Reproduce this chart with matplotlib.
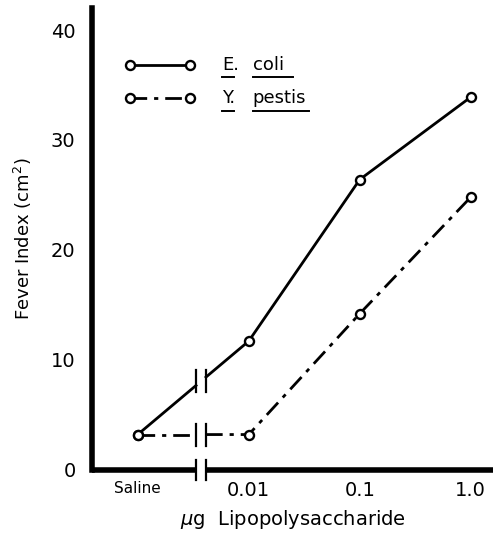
import matplotlib.pyplot as plt
from matplotlib.lines import Line2D

dosi = ['Saline', '0.01', '0.1', '1.0']
x_pos = [0, 1, 2, 3]
e_coli = [3.2, 11.7, 26.4, 33.9]
y_pestis = [3.2, 3.2, 14.2, 24.8]

rottura = 0.57  # dove c'e' l'interruzione dell'asse
tratteggio = (0, (6, 2.5, 1.5, 2.5))

fig = plt.figure(figsize=(4.93, 5.35), dpi=100)
ax = fig.add_axes([0.187, 0.122, 0.813, 0.863])
ax.set_xlim(-0.41, 3.2)
ax.set_ylim(0, 42)

# linee con l'interruzione
def serie(y, stile):
    y_rot = y[0] + (y[1] - y[0]) * rottura
    g = 0.045
    ax.plot([x_pos[0], rottura - g], [y[0], y[0] + (y[1] - y[0]) * (rottura - g)],
            color='black', lw=2, linestyle=stile)
    ax.plot([rottura + g] + x_pos[1:], [y[0] + (y[1] - y[0]) * (rottura + g)] + y[1:],
            color='black', lw=2, linestyle=stile)
    ax.plot(x_pos, y, 'o', mfc='white', mec='black', ms=6.5, mew=1.7, zorder=5)
    for dx in (-g, g):
        ax.plot([rottura + dx, rottura + dx], [y_rot - 1.0, y_rot + 1.0], color='black', lw=1.6)

serie(e_coli, '-')
serie(y_pestis, tratteggio)

for s in ['top', 'right', 'bottom']:
    ax.spines[s].set_visible(False)
ax.spines['left'].set_linewidth(4)
g = 0.045
ax.plot([-0.41, rottura - g], [0, 0], color='black', lw=4, solid_capstyle='butt', clip_on=False)
ax.plot([rottura + g, 3.2], [0, 0], color='black', lw=4, solid_capstyle='butt', clip_on=False)
for dx in (-g, g):
    ax.plot([rottura + dx, rottura + dx], [-0.9, 0.9], color='black', lw=1.6, clip_on=False)

ax.set_yticks([0, 10, 20, 30, 40])
ax.set_yticklabels(['0', '10', '20', '30', '40'], fontsize=14)
ax.set_xticks(x_pos)
ax.set_xticklabels(dosi, fontsize=14)
ax.get_xticklabels()[0].set_fontsize(11)
ax.tick_params(length=0)
ax.tick_params(axis='x', pad=8)
ax.tick_params(axis='y', pad=12)

ax.set_ylabel('Fever Index (cm$^2$)', fontsize=13, labelpad=12)
ax.set_xlabel(r'$\mu$g  Lipopolysaccharide', fontsize=14, labelpad=6)

# legenda disegnata a mano
for yy, stile, nomi in [(0.877, '-', ('E.', 'coli')), (0.805, tratteggio, ('Y.', 'pestis'))]:
    ax.add_line(Line2D([0.095, 0.245], [yy, yy], transform=ax.transAxes, color='black',
                       lw=2, linestyle=stile, marker='o', mfc='white', mec='black', ms=6.5, mew=1.7))
    ax.text(0.325, yy, nomi[0], transform=ax.transAxes, fontsize=13, va='center')
    ax.text(0.40, yy, nomi[1], transform=ax.transAxes, fontsize=13, va='center')
    ax.add_line(Line2D([0.325, 0.355], [yy - 0.027] * 2, transform=ax.transAxes, color='black', lw=1.4))
    larg = 0.10 if nomi[1] == 'coli' else 0.14
    ax.add_line(Line2D([0.40, 0.40 + larg], [yy - 0.027] * 2, transform=ax.transAxes, color='black', lw=1.4))

plt.savefig('out.png', dpi=100)
